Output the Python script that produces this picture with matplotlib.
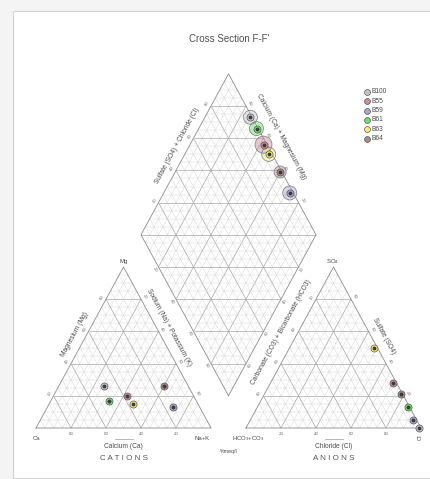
import math

import matplotlib

matplotlib.use("Agg")
import matplotlib.pyplot as plt
from matplotlib.patches import Rectangle

plt.rcParams["font.family"] = ["Liberation Sans", "DejaVu Sans"]
plt.rcParams["mathtext.fontset"] = "custom"
plt.rcParams["mathtext.rm"] = "Liberation Sans"
plt.rcParams["mathtext.it"] = "Liberation Sans"

TITLE = "Cross Section F-F'"
SAMPLES = ["B100", "B55", "B59", "B61", "B63", "B64"]

# cations, % meq/l
CALCIUM = [48, 38, 15, 50, 37, 14]
MAGNESIUM = [26, 20, 13, 17, 15, 26]
SODIUM_POTASSIUM = [26, 42, 72, 33, 48, 60]

# anions, % meq/l
BICARBONATE = [1, 2, 2, 1, 2, 1]
SULFATE = [0, 28, 5, 13, 50, 21]
CHLORIDE = [99, 70, 93, 86, 48, 78]

TICK_VALUES = [20, 40, 60, 80]

COLORS = {
    "B100": "#c4c4cc",
    "B55": "#c98c9c",
    "B59": "#a9a6d2",
    "B61": "#6ee06a",
    "B63": "#f4ee74",
    "B64": "#a88a8a",
}
HALO_PX = {"B100": 7, "B55": 8.5, "B59": 7, "B61": 7, "B63": 7, "B64": 6}

# layout, in output pixels
H = math.sqrt(3) / 2
GAP = 0.2
X0, Y0 = 36.0, 428.0
SX, SY = 175.0, 161.0 / H
GRID_MINOR = "#d2d2d2"
GRID_MAJOR = "#a6a6a6"
TEXT = "#4a4a4a"
TICK_TEXT = "#6a6a6a"


def px(x, y):
    return X0 + x * SX, Y0 - y * SY


def lerp(p, q, t):
    return p[0] + (q[0] - p[0]) * t, p[1] + (q[1] - p[1]) * t


def cation_xy(mg, nak):
    return px(nak + 0.5 * mg, mg * H)


def anion_xy(so4, cl):
    return px(1 + GAP + cl + 0.5 * so4, so4 * H)


def diamond_xy(camg, so4cl):
    bx, by = 1 + GAP / 2, GAP * H
    return px(bx + 0.5 * (so4cl - camg), by + (camg + so4cl) * H)


def segment(ax, p, q, color, lw):
    ax.plot([p[0], q[0]], [p[1], q[1]], color=color, lw=lw, solid_capstyle="butt", zorder=1)


def grid_style(i):
    return (GRID_MAJOR, 0.5) if i % 4 == 0 else (GRID_MINOR, 0.3)


def draw_triangle(ax, a, b, c):
    for i in range(1, 20):
        f = i / 20
        color, lw = grid_style(i)
        segment(ax, lerp(a, c, f), lerp(b, c, f), color, lw)
        segment(ax, lerp(a, b, f), lerp(c, b, f), color, lw)
        segment(ax, lerp(a, b, f), lerp(a, c, f), color, lw)
    ax.plot([a[0], b[0], c[0], a[0]], [a[1], b[1], c[1], a[1]], color="#8c8c8c", lw=0.6, zorder=2)


def draw_diamond(ax, bottom, left, right, top):
    for i in range(1, 20):
        f = i / 20
        color, lw = grid_style(i)
        segment(ax, lerp(bottom, left, f), lerp(right, top, f), color, lw)
        segment(ax, lerp(bottom, right, f), lerp(left, top, f), color, lw)
    for i in range(1, 40):
        k = i / 20
        color, lw = grid_style(i)
        if k < 1:
            segment(ax, lerp(bottom, left, k), lerp(bottom, right, k), color, lw)
        elif k == 1:
            segment(ax, left, right, color, lw)
        else:
            segment(ax, lerp(left, top, k - 1), lerp(right, top, k - 1), color, lw)
    xs = [bottom[0], right[0], top[0], left[0], bottom[0]]
    ys = [bottom[1], right[1], top[1], left[1], bottom[1]]
    ax.plot(xs, ys, color="#8c8c8c", lw=0.6, zorder=2)


def edge_frame(p, q, inside):
    dx, dy = q[0] - p[0], q[1] - p[1]
    length = math.hypot(dx, dy)
    nx, ny = -dy / length, dx / length
    mx, my = (p[0] + q[0]) / 2, (p[1] + q[1]) / 2
    if (inside[0] - mx) * nx + (inside[1] - my) * ny > 0:
        nx, ny = -nx, -ny
    angle = math.degrees(math.atan2(-dy, dx))
    if angle > 90:
        angle -= 180
    elif angle <= -90:
        angle += 180
    return (nx, ny), angle


def edge_ticks(ax, p, q, inside, reverse=False, offset=4.5):
    (nx, ny), angle = edge_frame(p, q, inside)
    if abs(angle) < 1:
        angle = 0
    for v in TICK_VALUES:
        t = (100 - v) / 100 if reverse else v / 100
        x, y = lerp(p, q, t)
        ax.text(x + nx * offset, y + ny * offset, str(v), fontsize=3.2, color=TICK_TEXT,
                rotation=angle, ha="center", va="center", rotation_mode="anchor")


def edge_title(ax, p, q, inside, text, t=0.5, offset=11):
    (nx, ny), angle = edge_frame(p, q, inside)
    x, y = lerp(p, q, t)
    ax.text(x + nx * offset, y + ny * offset, text, fontsize=4.8, color=TEXT,
            rotation=angle, ha="center", va="center", rotation_mode="anchor")


def centroid(*pts):
    return sum(p[0] for p in pts) / len(pts), sum(p[1] for p in pts) / len(pts)


def draw_points(ax, xs, ys, size=26):
    for x, y, name in zip(xs, ys, SAMPLES):
        ax.scatter([x], [y], s=size, color=COLORS[name], edgecolors="#555555",
                   linewidths=0.5, zorder=5)
        ax.scatter([x], [y], s=size * 0.12, color="#3a3a3a", zorder=6)


def main():
    fig = plt.figure(figsize=(4.3, 4.79), dpi=100, facecolor="#f4f4f4")
    ax = fig.add_axes([0, 0, 1, 1])
    ax.set_xlim(0, 430)
    ax.set_ylim(479, 0)
    ax.axis("off")
    ax.add_patch(Rectangle((13, 11), 430, 467, facecolor="white", edgecolor="#d2d2d2", lw=0.8, zorder=0))

    ca_v, nak_v, mg_v = px(0, 0), px(1, 0), px(0.5, H)
    hco_v, cl_v, so4_v = px(1 + GAP, 0), px(2 + GAP, 0), px(1.5 + GAP, H)
    d_bottom, d_left = diamond_xy(0, 0), diamond_xy(1, 0)
    d_right, d_top = diamond_xy(0, 1), diamond_xy(1, 1)

    draw_triangle(ax, ca_v, nak_v, mg_v)
    draw_triangle(ax, hco_v, cl_v, so4_v)
    draw_diamond(ax, d_bottom, d_left, d_right, d_top)

    c_left = centroid(ca_v, nak_v, mg_v)
    c_right = centroid(hco_v, cl_v, so4_v)
    c_mid = centroid(d_bottom, d_left, d_right, d_top)

    edge_ticks(ax, ca_v, nak_v, c_left, reverse=True, offset=6)
    edge_ticks(ax, ca_v, mg_v, c_left)
    edge_ticks(ax, mg_v, nak_v, c_left)
    edge_ticks(ax, hco_v, cl_v, c_right, offset=6)
    edge_ticks(ax, hco_v, so4_v, c_right, reverse=True)
    edge_ticks(ax, so4_v, cl_v, c_right, reverse=True)
    edge_ticks(ax, d_left, d_top, c_mid)
    edge_ticks(ax, d_right, d_top, c_mid)
    edge_ticks(ax, d_left, d_bottom, c_mid)
    edge_ticks(ax, d_right, d_bottom, c_mid)

    edge_title(ax, ca_v, mg_v, c_left, "Magnesium (Mg)", t=0.55)
    edge_title(ax, mg_v, nak_v, c_left, "Sodium (Na) + Potassium (K)", t=0.41)
    edge_title(ax, hco_v, so4_v, c_right, "Carbonate (CO3) + Bicarbonate (HCO3)", t=0.55, offset=15)
    edge_title(ax, so4_v, cl_v, c_right, "Sulfate (SO4)", t=0.46)
    edge_title(ax, d_left, d_top, c_mid, "Sulfate (SO4) + Chloride (Cl)", t=0.52, offset=10)
    edge_title(ax, d_right, d_top, c_mid, "Calcium (Ca) + Magnesium (Mg)", t=0.56, offset=16)

    # bottom axis titles with their direction strokes
    for v_a, v_b, name, group in [(ca_v, nak_v, "Calcium (Ca)", "C A T I O N S"),
                                  (hco_v, cl_v, "Chloride (Cl)", "A N I O N S")]:
        mx = (v_a[0] + v_b[0]) / 2
        ax.plot([mx - 9, mx + 9], [v_a[1] + 11, v_a[1] + 11], color="#9a9a9a", lw=0.5)
        ax.text(mx, v_a[1] + 19, name, fontsize=4.8, color=TEXT, ha="center", va="center")
        ax.text(mx, v_a[1] + 30, group, fontsize=5.8, color="#555555", ha="center", va="center")

    corner = dict(fontsize=4.3, color=TEXT, ha="center", va="center")
    ax.text(ca_v[0] + 1, ca_v[1] + 11, "Ca", **corner)
    ax.text(nak_v[0] - 9, nak_v[1] + 11, "Na+K", **corner)
    ax.text(mg_v[0], mg_v[1] - 5, "Mg", **corner)
    ax.text(hco_v[0] + 2, hco_v[1] + 11, r"HCO$_3$+CO$_3$", **corner)
    ax.text(so4_v[0] - 1, so4_v[1] - 5, r"SO$_4$", **corner)
    ax.text(cl_v[0] - 1, cl_v[1] + 9, "Cl", rotation=90, **corner)
    ax.text(d_bottom[0], Y0 + 24, "%meq/l", fontsize=3.8, color=TEXT, ha="center", va="center")

    ax.text(229, 39, TITLE, fontsize=7, color="#505050", ha="center", va="center")

    # cation and anion triangles
    cat = [cation_xy(m / 100, n / 100) for m, n in zip(MAGNESIUM, SODIUM_POTASSIUM)]
    ani = [anion_xy(s / 100, c / 100) for s, c in zip(SULFATE, CHLORIDE)]
    draw_points(ax, [p[0] for p in cat], [p[1] for p in cat])
    draw_points(ax, [p[0] for p in ani], [p[1] for p in ani])

    # central field, each sample inside a ring
    dia = [diamond_xy((ca + mg) / 100, (s + c) / 100)
           for ca, mg, s, c in zip(CALCIUM, MAGNESIUM, SULFATE, CHLORIDE)]
    for (x, y), name in zip(dia, SAMPLES):
        r = HALO_PX[name]
        ax.scatter([x], [y], s=(2 * r / 1.389) ** 2, color=COLORS[name], alpha=0.45,
                   edgecolors="none", zorder=3)
        ax.scatter([x], [y], s=(2 * r / 1.389) ** 2, facecolors="none",
                   edgecolors="#7a7a7a", linewidths=0.5, zorder=4)
    draw_points(ax, [p[0] for p in dia], [p[1] for p in dia])

    # legend
    for i, name in enumerate(SAMPLES):
        y = 91.7 + 9.4 * i
        ax.scatter([366.7], [y], s=18, color=COLORS[name], edgecolors="#555555", linewidths=0.5, zorder=5)
        ax.text(372, y, name, fontsize=4.8, color=TEXT, ha="left", va="center")

    fig.savefig("out.png", dpi=100, facecolor=fig.get_facecolor())
    plt.close(fig)


if __name__ == "__main__":
    main()
